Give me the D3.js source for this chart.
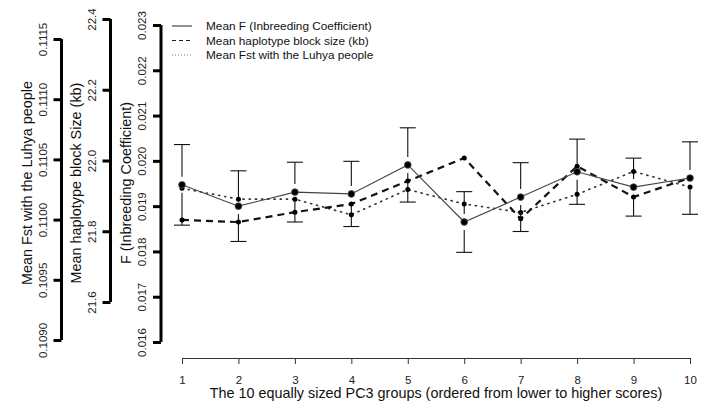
<!DOCTYPE html>
<html lang="en">
  <head>
    <meta charset="UTF-8" />
    <title>PC3 groups</title>
    <script src="https://cdn.jsdelivr.net/npm/d3@7"></script>
    <style>
      body { margin: 0; background: #fff; }
      svg { display: block; font-family: "Liberation Sans", Arial, sans-serif; }
    </style>
  </head>
  <body>
    <svg width="705" height="402"></svg>
    <script>
      // groups along the x axis
      const groups = [1, 2, 3, 4, 5, 6, 7, 8, 9, 10];
      // mean F with half-width of the error bar
      const meanF = [0.01947, 0.01900, 0.01931, 0.01927, 0.01991, 0.01865, 0.01920, 0.01976, 0.01942, 0.01962];
      const errF = [0.00089, 0.00078, 0.00066, 0.00072, 0.00082, 0.00067, 0.00076, 0.00072, 0.00064, 0.00080];
      // mean haplotype block size (kb)
      const meanHap = [21.832, 21.826, 21.854, 21.877, 21.942, 22.007, 21.835, 21.984, 21.897, 21.951];
      // mean Fst with the Luhya
      const meanFst = [0.11026, 0.11017, 0.11017, 0.11004, 0.11025, 0.11013, 0.11006, 0.11021, 0.11040, 0.11027];

      const fTicks = [0.016, 0.017, 0.018, 0.019, 0.020, 0.021, 0.022, 0.023];
      const hapTicks = [21.6, 21.8, 22.0, 22.2, 22.4];
      const fstTicks = [0.1090, 0.1095, 0.1100, 0.1105, 0.1110, 0.1115];

      const legendLabels = ["Mean F (Inbreeding Coefficient)", "Mean haplotype block size (kb)", "Mean Fst with the Luhya people"];

      const svg = d3.select("svg");

      const x = d3.scaleLinear().domain([1, 10]).range([182, 690]);
      const yF = d3.scaleLinear().domain([0.016, 0.023]).range([342, 25]);
      const yHap = d3.scaleLinear().domain([21.6, 22.4]).range([302, 19]);
      const yFst = d3.scaleLinear().domain([0.109, 0.1115]).range([340, 39]);

      // left axes, R style: thick line, labels rotated
      function leftAxis(scale, ticks, fmt, xPos, title) {
        const g = svg.append("g").attr("transform", `translate(${xPos},0)`);
        g.call(d3.axisLeft(scale).tickValues(ticks).tickFormat(fmt).tickSize(8).tickSizeOuter(0));
        g.select(".domain").attr("stroke", "#000").attr("stroke-width", 3)
          .attr("d", `M0,${scale.range()[0]}V${scale.range()[1]}`);
        g.selectAll(".tick line").attr("stroke", "#000").attr("stroke-width", 3);
        g.selectAll(".tick text")
          .attr("x", 0).attr("dy", 0)
          .attr("transform", "translate(-15,0) rotate(-90)")
          .attr("text-anchor", "middle")
          .attr("font-size", 11.5).attr("fill", "#222")
          .attr("font-family", "Liberation Sans, Arial, sans-serif");
        svg.append("text")
          .attr("transform", `translate(${xPos - 30},183) rotate(-90)`)
          .attr("text-anchor", "middle")
          .attr("font-size", 14.4).attr("fill", "#111")
          .text(title);
      }
      leftAxis(yFst, fstTicks, d3.format(".4f"), 61.5, "Mean Fst with the Luhya people");
      leftAxis(yHap, hapTicks, d3.format(".1f"), 110.5, "Mean haplotype block Size (kb)");
      leftAxis(yF, fTicks, d3.format(".3f"), 161, "F (Inbreeding Coefficient)");

      // x axis
      const xg = svg.append("g").attr("transform", "translate(0,358)")
        .call(d3.axisBottom(x).tickValues(groups).tickFormat(d3.format("d")).tickSize(6).tickSizeOuter(0));
      xg.select(".domain").attr("stroke", "#333");
      xg.selectAll(".tick line").attr("stroke", "#333");
      xg.selectAll(".tick text").attr("y", 18).attr("font-size", 11.5).attr("fill", "#222")
        .attr("font-family", "Liberation Sans, Arial, sans-serif");
      svg.append("text").attr("x", 436).attr("y", 398).attr("text-anchor", "middle")
        .attr("font-size", 14.4).attr("fill", "#111")
        .text("The 10 equally sized PC3 groups (ordered from lower to higher scores)");

      // error bars, with a gap around the point
      const gap = 8, cap = 8;
      const eb = svg.append("g").attr("stroke", "#111").attr("stroke-width", 1.1);
      groups.forEach((g, i) => {
        const cx = x(g), cy = yF(meanF[i]);
        const top = yF(meanF[i] + errF[i]), bot = yF(meanF[i] - errF[i]);
        eb.append("line").attr("x1", cx).attr("x2", cx).attr("y1", top).attr("y2", cy - gap);
        eb.append("line").attr("x1", cx).attr("x2", cx).attr("y1", cy + gap).attr("y2", bot);
        eb.append("line").attr("x1", cx - cap).attr("x2", cx + cap).attr("y1", top).attr("y2", top);
        eb.append("line").attr("x1", cx - cap).attr("x2", cx + cap).attr("y1", bot).attr("y2", bot);
      });

      const line = (ys) => d3.line().x((d, i) => x(groups[i])).y((d) => ys(d));

      // Fst dotted
      svg.append("path").datum(meanFst).attr("d", line(yFst))
        .attr("fill", "none").attr("stroke", "#333").attr("stroke-width", 1.6)
        .attr("stroke-dasharray", "1.2,5").attr("stroke-linecap", "round");
      // haplotype dashed
      svg.append("path").datum(meanHap).attr("d", line(yHap))
        .attr("fill", "none").attr("stroke", "#111").attr("stroke-width", 2.2)
        .attr("stroke-dasharray", "7,5");
      // F solid
      svg.append("path").datum(meanF).attr("d", line(yF))
        .attr("fill", "none").attr("stroke", "#444").attr("stroke-width", 1.1);

      svg.append("g").selectAll("circle").data(meanFst).join("circle")
        .attr("cx", (d, i) => x(groups[i])).attr("cy", (d) => yFst(d)).attr("r", 2.5).attr("fill", "#000");
      svg.append("g").selectAll("circle").data(meanHap).join("circle")
        .attr("cx", (d, i) => x(groups[i])).attr("cy", (d) => yHap(d)).attr("r", 2.5).attr("fill", "#000");
      svg.append("g").selectAll("circle").data(meanF).join("circle")
        .attr("cx", (d, i) => x(groups[i])).attr("cy", (d) => yF(d)).attr("r", 3.4)
        .attr("fill", "#000").attr("stroke", "#555").attr("stroke-width", 0.8);

      // legend
      const styles = [
        { stroke: "#333", width: 1.1, dash: null },
        { stroke: "#222", width: 1.1, dash: "4,3" },
        { stroke: "#777", width: 1, dash: "1,2" }
      ];
      const leg = svg.append("g").attr("transform", "translate(172,26)");
      legendLabels.forEach((lab, i) => {
        const row = leg.append("g").attr("transform", `translate(0,${i * 14.5})`);
        row.append("line").attr("x1", 0).attr("x2", 20).attr("y1", 0).attr("y2", 0)
          .attr("stroke", styles[i].stroke).attr("stroke-width", styles[i].width)
          .attr("stroke-dasharray", styles[i].dash);
        row.append("text").attr("x", 34).attr("y", 4).attr("font-size", 11.8).attr("fill", "#111").text(lab);
      });
    </script>
  </body>
</html>
